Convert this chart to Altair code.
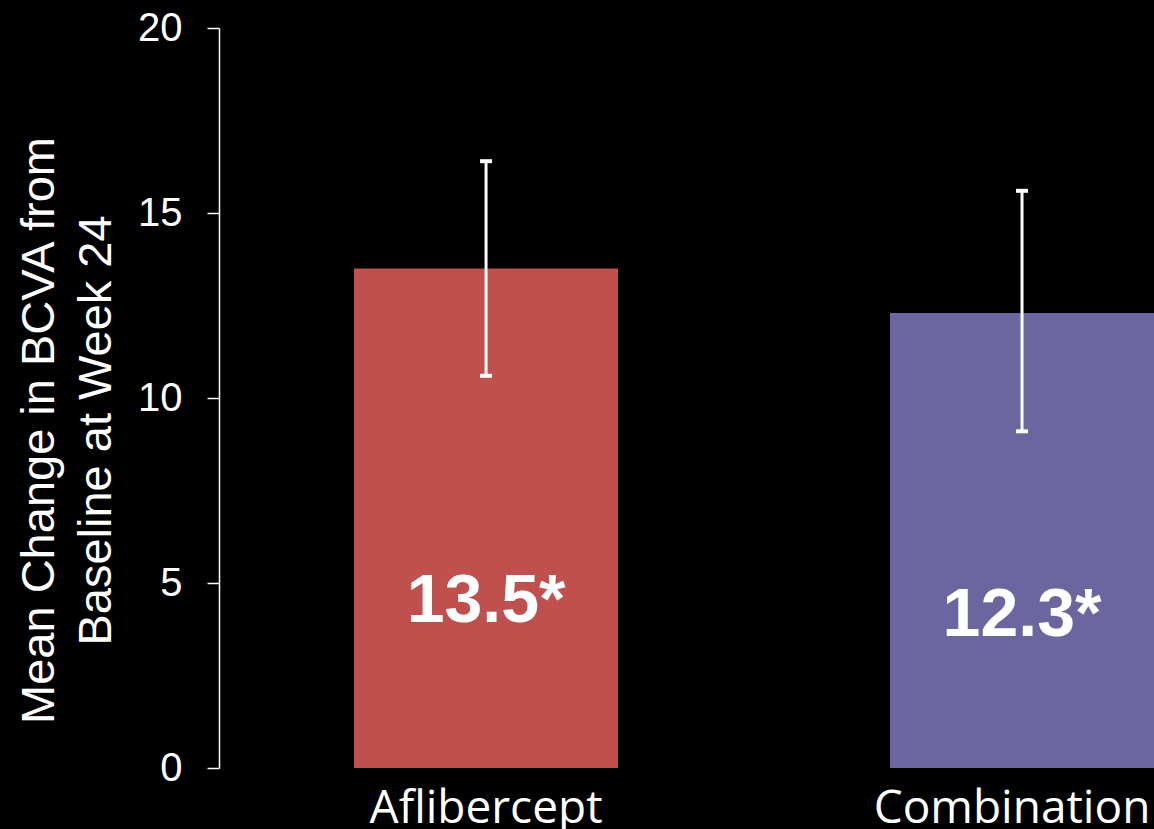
import altair as alt
import pandas as pd

categories = ["Aflibercept", "Combination"]
means = [13.5, 12.3]
err_low = [10.6, 9.1]
err_high = [16.4, 15.6]
bar_labels = ["13.5*", "12.3*"]
colors = ["#C0504D", "#6B66A0"]
y_ticks = [0, 5, 10, 15, 20]

df = pd.DataFrame({
    "group": categories,
    "mean": means,
    "low": err_low,
    "high": err_high,
    "label": bar_labels,
})

x_enc = alt.X(
    "group:N",
    sort=categories,
    title=None,
    scale=alt.Scale(paddingInner=0.5075, paddingOuter=0.126, align=1),
    axis=alt.Axis(
        domain=False,
        ticks=False,
        tickSize=0,
        labelAngle=0,
        labelFont="Open Sans",
        labelFontSize=46,
        labelColor="white",
        labelPadding=54,
        labelBaseline="alphabetic",
        labelLimit=600,
        labelOverlap=False,
        labelOffset={"condition": {"test": "datum.value == 'Combination'", "value": -10}, "value": 0},
    ),
)

y_scale = alt.Scale(domain=[0, 20], nice=False, zero=True)

y_enc = alt.Y(
    "mean:Q",
    scale=y_scale,
    title=["Mean Change in BCVA from", "Baseline at Week 24"],
    axis=alt.Axis(
        values=y_ticks,
        grid=False,
        domainColor="white",
        domainWidth=1.5,
        tickColor="white",
        tickWidth=1.5,
        tickSize=12,
        labelFont="Liberation Sans",
        labelFontSize=40,
        labelColor="white",
        labelPadding=25,
        titleFont="Liberation Sans",
        titleFontSize=47,
        titleFontWeight="normal",
        titleColor="white",
        titleAngle=270,
        titleAlign="center",
        titleBaseline="alphabetic",
        titleLineHeight=57,
        titleX=-166,
        titleY=402,
        titleLimit=900,
    ),
)

bars = alt.Chart(df).mark_bar().encode(
    x=x_enc,
    y=y_enc,
    color=alt.Color("group:N", scale=alt.Scale(domain=categories, range=colors), legend=None),
)

rule = alt.Chart(df).mark_rule(color="white", strokeWidth=3, opacity=1).encode(
    x=alt.X("group:N", sort=categories),
    y=alt.Y("low:Q", scale=y_scale),
    y2="high:Q",
)

tick_low = alt.Chart(df).mark_tick(color="white", size=12, thickness=4, opacity=1).encode(
    x=alt.X("group:N", sort=categories),
    y=alt.Y("low:Q", scale=y_scale),
)

tick_high = alt.Chart(df).mark_tick(color="white", size=12, thickness=4, opacity=1).encode(
    x=alt.X("group:N", sort=categories),
    y=alt.Y("high:Q", scale=y_scale),
)

text = alt.Chart(df).transform_calculate(
    label_pos="datum.mean / 3"
).mark_text(
    font="Liberation Sans", fontSize=68, fontWeight="bold", color="white",
    baseline="middle", align="center",
).encode(
    x=alt.X("group:N", sort=categories),
    y=alt.Y("label_pos:Q", scale=y_scale),
    text="label:N",
)

chart = alt.layer(bars, rule, tick_low, tick_high, text).properties(
    width=935,
    height=740,
    autosize=alt.AutoSizeParams(type="none"),
    padding={"left": 219, "top": 28, "right": 0, "bottom": 61},
    background="black",
).configure_view(stroke=None)

chart.save("out.html", embed_options={"renderer": "svg", "actions": False})
